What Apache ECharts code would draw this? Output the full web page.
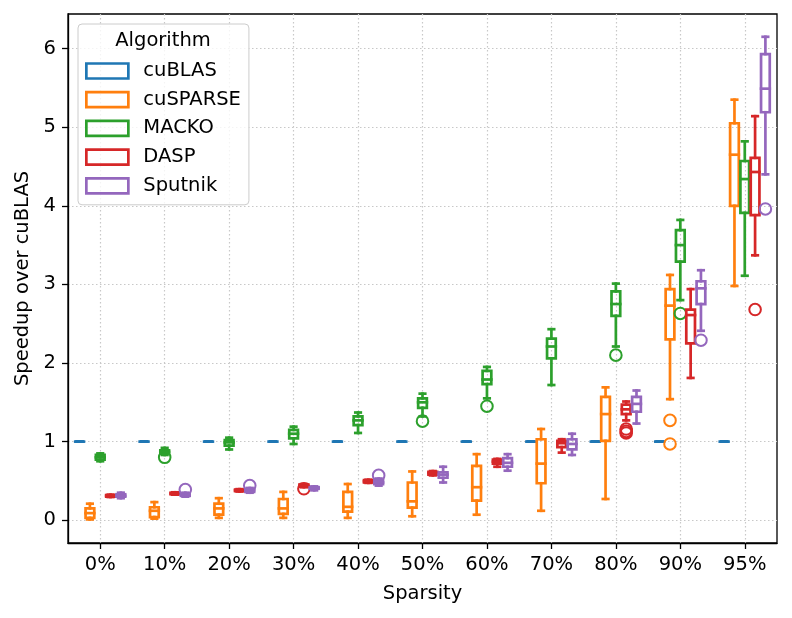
<!DOCTYPE html>
<html>
<head>
<meta charset="utf-8">
<script src="https://cdn.jsdelivr.net/npm/echarts@6/dist/echarts.min.js"></script>
<style>
html,body{margin:0;padding:0;background:#fff;}
#chart{width:792px;height:618px;}
</style>
</head>
<body>
<div id="chart"></div>
<script>
// ---------------- data ----------------
const categories = ['0%','10%','20%','30%','40%','50%','60%','70%','80%','90%','95%'];
const algorithms = ['cuBLAS','cuSPARSE','MACKO','DASP','Sputnik'];
const colors = ['#1f77b4','#ff7f0e','#2ca02c','#d62728','#9467bd'];
const yTicks = [0,1,2,3,4,5,6];

// each entry: [low whisker, Q1, median, Q3, high whisker]
const cuBLAS = [
  [1,1,1,1,1],[1,1,1,1,1],[1,1,1,1,1],[1,1,1,1,1],[1,1,1,1,1],[1,1,1,1,1],
  [1,1,1,1,1],[1,1,1,1,1],[1,1,1,1,1],[1,1,1,1,1],[1,1,1,1,1]
];
const cuBLASOut = [[],[],[],[],[],[],[],[],[],[],[]];

const cuSPARSE = [
  [0.01,0.03,0.09,0.15,0.21],
  [0.02,0.04,0.12,0.165,0.23],
  [0.03,0.07,0.15,0.21,0.28],
  [0.03,0.08,0.15,0.27,0.36],
  [0.03,0.11,0.17,0.36,0.46],
  [0.05,0.16,0.24,0.48,0.62],
  [0.07,0.25,0.42,0.69,0.84],
  [0.12,0.47,0.72,1.03,1.16],
  [0.27,1.01,1.35,1.57,1.69],
  [1.54,2.30,2.73,2.94,3.12],
  [2.98,4.00,4.65,5.05,5.35]
];
const cuSPARSEOut = [[],[],[],[],[],[],[],[],[],[1.27,0.97],[]];

const MACKO = [
  [0.75,0.77,0.80,0.83,0.85],
  [0.83,0.85,0.87,0.89,0.92],
  [0.90,0.95,0.99,1.02,1.05],
  [0.97,1.04,1.10,1.15,1.19],
  [1.11,1.21,1.27,1.32,1.37],
  [1.32,1.43,1.50,1.55,1.61],
  [1.55,1.73,1.79,1.90,1.95],
  [1.72,2.06,2.21,2.31,2.43],
  [2.21,2.60,2.75,2.91,3.01],
  [2.80,3.29,3.50,3.69,3.82],
  [3.11,3.91,4.34,4.57,4.82]
];
const MACKOOut = [[],[0.80],[],[],[],[1.26],[1.45],[],[2.10],[2.63],[]];

const DASP = [
  [0.295,0.30,0.31,0.32,0.325],
  [0.325,0.33,0.34,0.35,0.355],
  [0.365,0.37,0.38,0.39,0.395],
  [0.42,0.425,0.44,0.455,0.46],
  [0.475,0.48,0.495,0.51,0.515],
  [0.57,0.58,0.60,0.615,0.625],
  [0.68,0.72,0.745,0.77,0.78],
  [0.86,0.93,0.98,1.01,1.03],
  [1.27,1.35,1.41,1.47,1.51],
  [1.81,2.25,2.61,2.68,2.94],
  [3.37,3.88,4.43,4.61,5.14]
];
const DASPOut = [[],[],[],[0.40],[],[],[],[],[1.16,1.13,1.11],[],[2.68]];

const Sputnik = [
  [0.28,0.30,0.31,0.33,0.35],
  [0.30,0.31,0.32,0.34,0.35],
  [0.35,0.36,0.38,0.40,0.41],
  [0.38,0.40,0.41,0.42,0.43],
  [0.44,0.46,0.48,0.51,0.53],
  [0.48,0.54,0.58,0.61,0.68],
  [0.63,0.68,0.73,0.79,0.84],
  [0.83,0.90,0.97,1.03,1.10],
  [1.23,1.38,1.48,1.57,1.65],
  [2.41,2.75,2.95,3.04,3.18],
  [4.40,5.19,5.49,5.93,6.15]
];
const SputnikOut = [[],[0.39],[0.44],[],[0.57],[],[],[],[],[2.29],[3.96]];

const boxSets = [cuBLAS, cuSPARSE, MACKO, DASP, Sputnik];
const outSets = [cuBLASOut, cuSPARSEOut, MACKOOut, DASPOut, SputnikOut];

// ---------------- drawing ----------------
const GROUP_W = 0.8;
const SLOT = GROUP_W / algorithms.length;
const BOX_W = 0.135;
const CAP_W = 0.085;
const LW = 2.7;
const FONT = 'DejaVu Sans';
const FS = 19.5;

function makeRender(k) {
  const boxes = boxSets[k], outs = outSets[k], color = colors[k];
  const offset = -GROUP_W / 2 + SLOT * (k + 0.5);
  return function (params, api) {
    const i = params.dataIndex;
    const b = boxes[i];
    const xv = i + offset;
    const unit = api.size([1, 0])[0];
    const cx = api.coord([xv, 0])[0];
    const Y = v => api.coord([xv, v])[1];
    const hw = BOX_W * unit / 2, cw = CAP_W * unit / 2;
    const st = () => ({stroke: color, lineWidth: LW, fill: 'none', lineCap: 'square', lineJoin: 'miter'});
    const ch = [];
    ch.push({type: 'line', shape: {x1: cx, y1: Y(b[0]), x2: cx, y2: Y(b[1])}, style: st()});
    ch.push({type: 'line', shape: {x1: cx, y1: Y(b[3]), x2: cx, y2: Y(b[4])}, style: st()});
    ch.push({type: 'line', shape: {x1: cx - cw, y1: Y(b[0]), x2: cx + cw, y2: Y(b[0])}, style: st()});
    ch.push({type: 'line', shape: {x1: cx - cw, y1: Y(b[4]), x2: cx + cw, y2: Y(b[4])}, style: st()});
    ch.push({type: 'rect', shape: {x: cx - hw, y: Y(b[3]), width: 2 * hw, height: Y(b[1]) - Y(b[3])}, style: st()});
    ch.push({type: 'line', shape: {x1: cx - hw, y1: Y(b[2]), x2: cx + hw, y2: Y(b[2])}, style: st()});
    (outs[i] || []).forEach(o => {
      ch.push({type: 'circle', shape: {cx: cx, cy: Y(o), r: 5.8}, style: {stroke: color, lineWidth: 2, fill: 'none'}});
    });
    return {type: 'group', children: ch};
  };
}

const series = algorithms.map((name, k) => ({
  name: name,
  type: 'custom',
  renderItem: makeRender(k),
  itemStyle: {color: colors[k]},
  encode: {x: 0, y: [1, 2]},
  data: boxSets[k].map((b, i) => [i - GROUP_W / 2 + SLOT * (k + 0.5), b[0], b[4]]),
  z: 3
}));

const chart = echarts.init(document.getElementById('chart'), null, {renderer: 'canvas'});
chart.setOption({
  animation: false,
  backgroundColor: '#fff',
  textStyle: {fontFamily: FONT},
  grid: {left: 68, right: 15, top: 14, bottom: 75, show: true, borderColor: '#000', borderWidth: 1.3, backgroundColor: 'transparent'},
  title: {
    text: 'Algorithm', left: 163, top: 31, textAlign: 'center', padding: 0,
    textStyle: {fontFamily: FONT, fontSize: FS, fontWeight: 'normal', color: '#000'}, z: 20
  },
  legend: {
    orient: 'vertical', left: 78, top: 24,
    padding: [36, 8, 8, 7], itemGap: 6.7,
    itemWidth: 42, itemHeight: 15,
    backgroundColor: 'rgba(255,255,255,0.8)', borderColor: '#cccccc', borderWidth: 1, borderRadius: 4,
    textStyle: {fontFamily: FONT, fontSize: FS, color: '#000', lineHeight: 22, padding: [0, 0, 0, 10]},
    data: algorithms.map((a, k) => ({name: a, icon: 'rect', itemStyle: {color: 'rgba(255,255,255,0)', borderColor: colors[k], borderWidth: 2.7}})),
    selectedMode: false, z: 10
  },
  xAxis: {
    type: 'value', min: -0.5, max: 10.5, minInterval: 1, maxInterval: 1,
    name: 'Sparsity', nameLocation: 'middle', nameGap: 41,
    nameTextStyle: {fontFamily: FONT, fontSize: FS, color: '#000'},
    axisLine: {show: true, onZero: false, lineStyle: {color: '#000', width: 1.3}},
    axisTick: {show: true, length: 6, lineStyle: {color: '#000', width: 1.3}, customValues: categories.map((c, i) => i)},
    axisLabel: {
      fontFamily: FONT, fontSize: FS, color: '#000', margin: 12,
      customValues: categories.map((c, i) => i),
      formatter: v => (Number.isInteger(v) && categories[v] !== undefined) ? categories[v] : ''
    },
    splitLine: {show: true, lineStyle: {color: '#c8c8c8', width: 1.2, type: [1.5, 2.5]}}
  },
  yAxis: {
    type: 'value', min: -0.29, max: 6.44, minInterval: 1, maxInterval: 1,
    name: 'Speedup over cuBLAS', nameLocation: 'middle', nameGap: 35,
    nameTextStyle: {fontFamily: FONT, fontSize: FS, color: '#000'},
    axisLine: {show: true, onZero: false, lineStyle: {color: '#000', width: 1.3}},
    axisTick: {show: true, length: 6, lineStyle: {color: '#000', width: 1.3}, customValues: yTicks},
    axisLabel: {
      fontFamily: FONT, fontSize: FS, color: '#000', margin: 12,
      customValues: yTicks,
      formatter: v => Number.isInteger(v) ? String(v) : ''
    },
    splitLine: {show: true, lineStyle: {color: '#c8c8c8', width: 1.2, type: [1.5, 2.5]}}
  },
  series: series
});
</script>
</body>
</html>
